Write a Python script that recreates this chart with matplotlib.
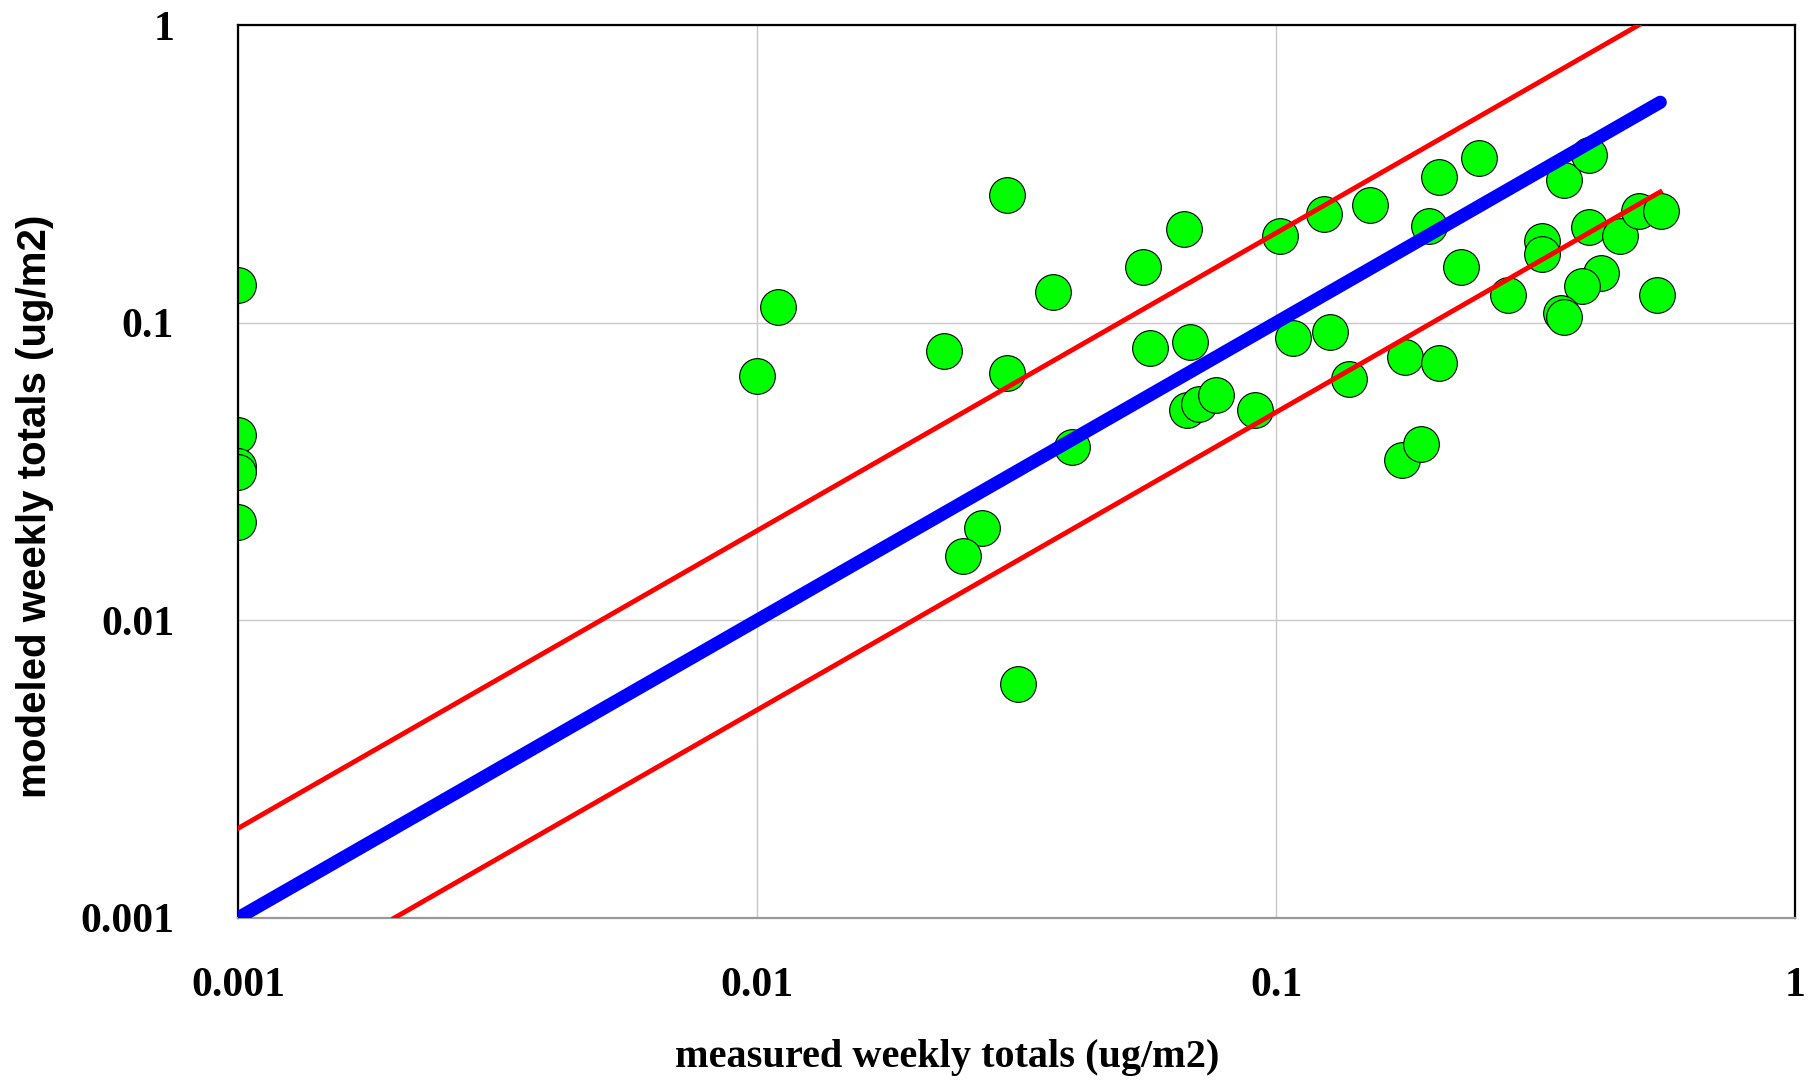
import matplotlib
matplotlib.use("Agg")
import matplotlib.pyplot as plt

# measured vs modeled weekly totals (ug/m2)
measured = [0.001, 0.001, 0.001, 0.001, 0.001,
            0.0110, 0.0100, 0.0229, 0.0303, 0.0303, 0.0372, 0.0404, 0.0271, 0.0249, 0.0319,
            0.0555, 0.0665, 0.0571, 0.0683, 0.0674, 0.0711, 0.0766, 0.0911,
            0.102, 0.1236, 0.152, 0.1079, 0.127, 0.138,
            0.177, 0.2065, 0.1748, 0.190, 0.2065, 0.2466, 0.1975, 0.2274,
            0.2793, 0.3254, 0.3254, 0.3588, 0.4001, 0.4001, 0.4609, 0.4996, 0.551,
            0.4234, 0.389, 0.3534, 0.3588, 0.543]
modeled = [0.1337, 0.0419, 0.0330, 0.0315, 0.0214,
           0.1125, 0.0662, 0.0804, 0.2684, 0.0679, 0.127, 0.0381, 0.0204, 0.0164, 0.0061,
           0.154, 0.2058, 0.0823, 0.0863, 0.0509, 0.0533, 0.0571, 0.0509,
           0.196, 0.2316, 0.2494, 0.0885, 0.0928, 0.0646,
           0.0765, 0.073, 0.0346, 0.039, 0.309, 0.358, 0.2111, 0.154,
           0.1238, 0.1884, 0.170, 0.3013, 0.3656, 0.210, 0.196, 0.237, 0.237,
           0.147, 0.133, 0.1075, 0.1047, 0.1238]

# 1:1 line and factor-of-two lines
line_1to1_x = [0.001, 0.55]
line_1to1_y = [0.001, 0.55]
line_upper_x = [0.001, 0.5]
line_upper_y = [0.002, 1.0]
line_lower_x = [0.002, 0.55]
line_lower_y = [0.001, 0.275]

ticks = [0.001, 0.01, 0.1, 1]
tick_labels = ["0.001", "0.01", "0.1", "1"]

fig = plt.figure(figsize=(18.16, 10.82), dpi=100)
ax = fig.add_axes([238 / 1816, 1 - 918 / 1082, (1795 - 238) / 1816, (918 - 25) / 1082])

ax.set_xscale("log")
ax.set_yscale("log")
ax.set_xlim(0.001, 1)
ax.set_ylim(0.001, 1)

ax.grid(True, which="major", color="#c8c8c8", linewidth=1.0, zorder=0)
ax.set_axisbelow(True)

ax.scatter(measured, modeled, s=660, facecolor="#00ff00", edgecolor="black",
           linewidth=0.8, zorder=2)

ax.plot(line_upper_x, line_upper_y, color="red", linewidth=3.5, zorder=3)
ax.plot(line_lower_x, line_lower_y, color="red", linewidth=3.5, zorder=3)
ax.plot(line_1to1_x, line_1to1_y, color="blue", linewidth=9.5,
        solid_capstyle="round", zorder=4)

ax.set_xticks(ticks)
ax.set_xticklabels(tick_labels)
ax.set_yticks(ticks)
ax.set_yticklabels(tick_labels)
ax.minorticks_off()
ax.tick_params(axis="x", length=0, pad=35)
ax.tick_params(axis="y", length=0, pad=46)
for lab in ax.get_xticklabels() + ax.get_yticklabels():
    lab.set_fontfamily("Liberation Serif")
    lab.set_fontweight("bold")
    lab.set_fontsize(30)

for side in ["left", "top", "right"]:
    ax.spines[side].set_color("black")
    ax.spines[side].set_linewidth(1.6)
ax.spines["bottom"].set_color("#999999")
ax.spines["bottom"].set_linewidth(1.6)

fig.text(947 / 1816, 1 - 1057 / 1082, "measured weekly totals (ug/m2)",
         ha="center", va="center", fontfamily="Liberation Serif",
         fontweight="bold", fontsize=29)
fig.text(35 / 1816, 1 - 506 / 1082, "modeled weekly totals (ug/m2)",
         ha="center", va="center", rotation=90, fontfamily="Liberation Sans",
         fontweight="bold", fontsize=29)

fig.savefig("out.png", dpi=100)
